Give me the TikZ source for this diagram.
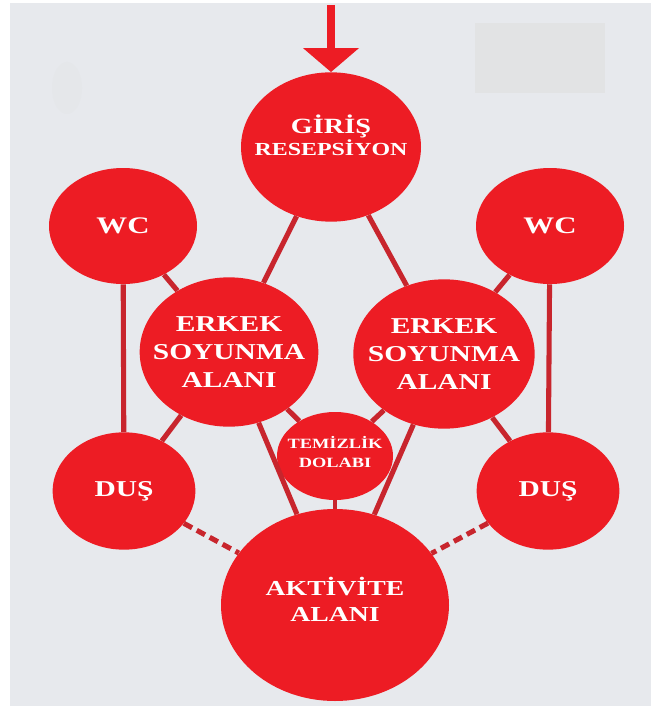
\documentclass[tikz,border=0pt]{standalone}
\usepackage{fontspec}
\setmainfont{Liberation Serif}
\usetikzlibrary{arrows.meta,shapes.geometric}
\definecolor{RoomRed}{HTML}{ED1C24}
\definecolor{LinkRed}{HTML}{C8252D}
\definecolor{Paper}{HTML}{E7E9ED}
\definecolor{Patch}{HTML}{E2E3E4}

\begin{document}
\begin{tikzpicture}[x=0.75pt,y=-0.75pt,
  room/.style={ellipse,fill=RoomRed,inner sep=0pt},
  roomtext/.style={text=white,align=center,font=\bfseries,xscale=1.3,transform shape},
  roomlabel/.style={label={[roomtext]center:{#1}}},
  link/.style={LinkRed,line width=3.8pt},
  thinlink/.style={LinkRed,line width=2.6pt},
  dashlink/.style={LinkRed,line width=3.8pt,dash pattern=on 7pt off 4pt},
  entryarrow/.style={RoomRed,line width=5.6pt,-{Triangle[width=41pt,length=18pt]}}]
\useasboundingbox (0,0) rectangle (651,706);
% paper
\fill[Paper] (10,3) rectangle (651,706);
\fill[Patch] (475,23) rectangle (605,93);
\fill[Patch!35!Paper] (67,88) ellipse [x radius=15, y radius=26];
% rooms
\node[room,minimum width=135pt,minimum height=112pt,
  label={[roomtext,yshift=9pt]center:{\fontsize{16.3}{18}\selectfont GİRİŞ\\\fontsize{13.8}{18}\selectfont RESEPSİYON}}] (giris) at (331,147) {};
\node[room,minimum width=111pt,minimum height=87pt,
  roomlabel={\fontsize{17.8}{20}\selectfont WC}] (wcL) at (123,226) {};
\node[room,minimum width=111pt,minimum height=87pt,
  roomlabel={\fontsize{17.8}{20}\selectfont WC}] (wcR) at (550,226) {};
\node[room,minimum width=134pt,minimum height=112pt,
  label={[roomtext,font=\bfseries\fontsize{17}{21}\selectfont]center:{ERKEK\\SOYUNMA\\ALANI}}] (erkekL) at (229,352) {};
\node[room,minimum width=136pt,minimum height=112pt,
  label={[roomtext,font=\bfseries\fontsize{17}{21}\selectfont]center:{ERKEK\\SOYUNMA\\ALANI}}] (erkekR) at (444,354) {};
\node[room,minimum width=87pt,minimum height=66pt,
  label={[roomtext,yshift=3pt,font=\bfseries\fontsize{10.6}{14.2}\selectfont]center:{TEMİZLİK\\DOLABI}}] (temizlik) at (335,456) {};
\node[room,minimum width=107pt,minimum height=88pt,
  roomlabel={\fontsize{17}{20}\selectfont DUŞ}] (dusL) at (124,491) {};
\node[room,minimum width=107pt,minimum height=88pt,
  roomlabel={\fontsize{17}{20}\selectfont DUŞ}] (dusR) at (548,491) {};
\node[room,minimum width=171pt,minimum height=144pt,
  label={[roomtext,yshift=4.5pt,font=\bfseries\fontsize{16}{19.5}\selectfont]center:{AKTİVİTE\\ALANI}}] (aktivite) at (335,605) {};
% entrance
\coordinate (entry) at (331,5);
\draw[entryarrow] (entry) -- (giris.north);
% links
\draw[link] (giris) -- (erkekL);
\draw[link] (giris) -- (erkekR);
\draw[link] (wcL) -- (erkekL);
\draw[link] (wcR) -- (erkekR);
\draw[link] (wcL) -- (dusL);
\draw[link] (wcR) -- (dusR);
\draw[link] (erkekL) -- (dusL);
\draw[link] (erkekR) -- (dusR);
\draw[link] (erkekL) -- (temizlik);
\draw[link] (erkekR) -- (temizlik);
\draw[link] (erkekL) -- (aktivite);
\draw[link] (erkekR) -- (aktivite);
\draw[thinlink] (temizlik) -- (aktivite);
\draw[dashlink] (dusL) -- (aktivite);
\draw[dashlink] (dusR) -- (aktivite);
\end{tikzpicture}
\end{document}
